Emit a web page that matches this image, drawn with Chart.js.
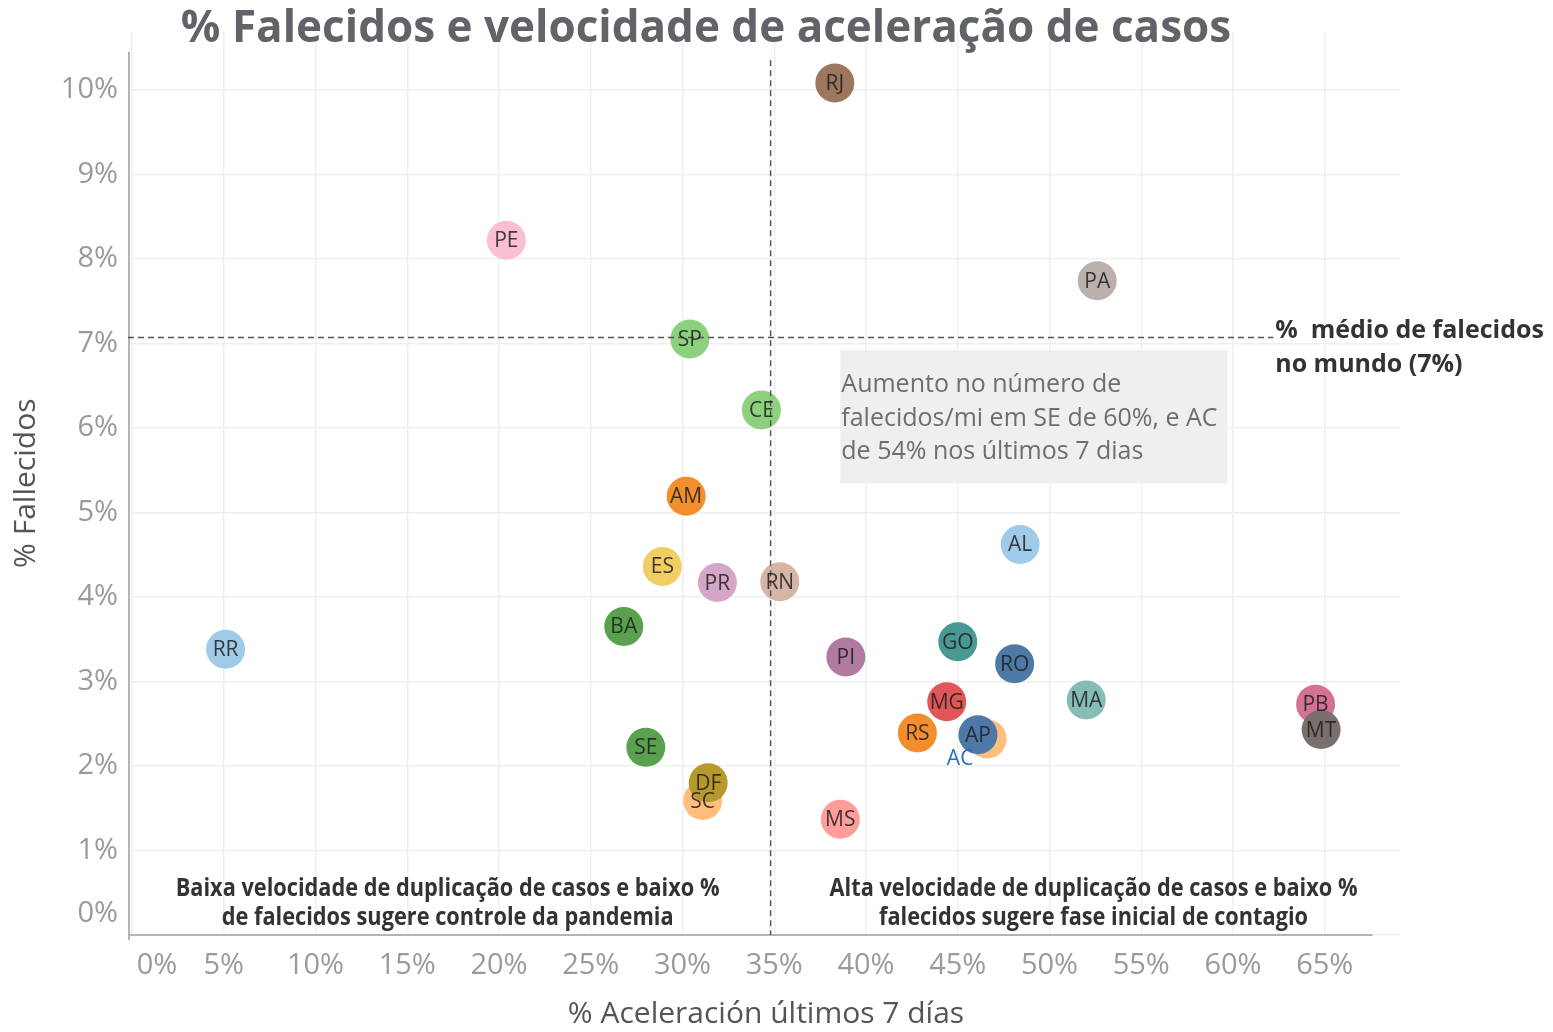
<!DOCTYPE html>
<html>
<head>
<meta charset="utf-8">
<script src="https://cdn.jsdelivr.net/npm/chart.js@4.4.1/dist/chart.umd.min.js"></script>
<style>
    html, body { margin: 0; padding: 0; background: #fff; }
    #wrap { width: 1553px; height: 1032px; }
</style>
</head>
<body>
<div id="wrap"><canvas id="scatter-chart" width="1553" height="1032"></canvas></div>
<script>
// data
var states = ['RJ', 'PE', 'PA', 'SP', 'CE', 'AM', 'AL', 'ES', 'PR', 'RN', 'BA', 'RR', 'GO', 'PI', 'RO', 'MA', 'PB', 'MT', 'MG', 'RS', 'AC', 'AP', 'SE', 'SC', 'DF', 'MS'];
var acceleration = [38.3, 20.4, 52.6, 30.4, 34.3, 30.2, 48.4, 28.9, 31.9, 35.3, 26.8, 5.1, 45.0, 38.9, 48.1, 52.0, 64.5, 64.8, 44.4, 42.8, 46.6, 46.1, 28.0, 31.1, 31.4, 38.6];
var deaths = [10.08, 8.22, 7.74, 7.05, 6.21, 5.19, 4.62, 4.36, 4.17, 4.18, 3.65, 3.38, 3.47, 3.29, 3.21, 2.78, 2.73, 2.43, 2.76, 2.39, 2.32, 2.37, 2.22, 1.59, 1.80, 1.37];
var stateColors = ['#9d7660', '#fabfd2', '#bab0ac', '#8cd17d', '#8cd17d', '#f28e2b', '#a0cbe8', '#f1ce63', '#d4a6c8', '#d7b5a6', '#59a14f', '#a0cbe8', '#499894', '#b07aa1', '#4e79a7', '#86bcb6', '#d37295', '#79706e', '#e15759', '#f28e2b', '#ffbe7d', '#4e79a7', '#59a14f', '#ffbe7d', '#b6992d', '#ff9d9a'];

var avgAcceleration = 34.8;   // vertical reference
var worldDeaths = 7.07;       // "% médio de falecidos no mundo (7%)"

var FONT = "'Open Sans', 'DejaVu Sans', sans-serif";
var TICK_COLOR = '#9a9a9a';

var points = [];
for (var i = 0; i < states.length; i++) {
    points.push({ x: acceleration[i], y: deaths[i] });
}

function textLines(ctx, lines, x, y, lineH) {
    for (var i = 0; i < lines.length; i++) {
        ctx.fillText(lines[i], x, y + i * lineH);
    }
}

// condensed bold text (Tableau semibold look)
function narrowLines(ctx, lines, x, y, lineH) {
    ctx.save();
    ctx.translate(x, y);
    ctx.scale(0.87, 1);
    textLines(ctx, lines, 0, 0, lineH);
    ctx.restore();
}

// zero labels are pushed inside the corner, like in Tableau
function tickLabel(v) {
    return v === 0 ? '' : v + '%';
}

/*
*   reference lines, notes, labels inside bubbles
*/
var overlay = {
    id: 'overlay',
    beforeDatasetsDraw: function(chart) {
        var ctx = chart.ctx, xs = chart.scales.x, ys = chart.scales.y, area = chart.chartArea;
        ctx.save();
        // axis lines
        ctx.strokeStyle = '#b4b4b4';
        ctx.lineWidth = 2;
        ctx.beginPath();
        ctx.moveTo(area.left - 3, ys.getPixelForValue(10.45));
        ctx.lineTo(area.left - 3, area.bottom + 5);
        ctx.moveTo(area.left - 4, area.bottom);
        ctx.lineTo(xs.getPixelForValue(67.6), area.bottom);
        ctx.stroke();

        // the two zero ticks
        ctx.fillStyle = TICK_COLOR;
        ctx.font = '29px ' + FONT;
        ctx.textBaseline = 'middle';
        ctx.textAlign = 'right';
        ctx.fillText('0%', area.left - 14, ys.getPixelForValue(0) - 21);
        ctx.textAlign = 'center';
        ctx.fillText('0%', xs.getPixelForValue(0) + 25, area.bottom + 31);

        // grey note box
        var bx1 = xs.getPixelForValue(38.6), bx2 = xs.getPixelForValue(59.7);
        var by1 = ys.getPixelForValue(6.92), by2 = ys.getPixelForValue(5.34);
        ctx.fillStyle = '#efefef';
        ctx.fillRect(bx1, by1, bx2 - bx1, by2 - by1);
        ctx.fillStyle = '#6e6e6e';
        ctx.font = '25px ' + FONT;
        ctx.textAlign = 'left';
        textLines(ctx, ['Aumento no número de', 'falecidos/mi em SE de 60%, e AC', 'de 54% nos últimos 7 dias'], bx1 + 1, by1 + 35, 33.5);

        // quadrant notes
        ctx.fillStyle = '#333';
        ctx.font = 'bold 25px ' + FONT;
        ctx.textAlign = 'center';
        narrowLines(ctx, ['Baixa velocidade de duplicação de casos e baixo %', 'de falecidos sugere controle da pandemia'],
            xs.getPixelForValue(17.2), ys.getPixelForValue(0.54), 29);
        narrowLines(ctx, ['Alta velocidade de duplicação de casos e baixo %', 'falecidos sugere fase inicial de contagio'],
            xs.getPixelForValue(52.4), ys.getPixelForValue(0.54), 29);
        ctx.restore();
    },
    afterDatasetsDraw: function(chart) {
        var ctx = chart.ctx, xs = chart.scales.x, ys = chart.scales.y, area = chart.chartArea;
        ctx.save();
        // dashed reference lines
        ctx.strokeStyle = '#555';
        ctx.lineWidth = 1.5;
        ctx.setLineDash([6, 4]);
        ctx.beginPath();
        var vx = xs.getPixelForValue(avgAcceleration);
        ctx.moveTo(vx, ys.getPixelForValue(10.35));
        ctx.lineTo(vx, area.bottom);
        var hy = ys.getPixelForValue(worldDeaths);
        ctx.moveTo(area.left - 4, hy);
        ctx.lineTo(xs.getPixelForValue(62.2), hy);
        ctx.stroke();
        ctx.setLineDash([]);

        ctx.fillStyle = '#333';
        ctx.font = 'bold 25px ' + FONT;
        ctx.textAlign = 'left';
        ctx.textBaseline = 'middle';
        textLines(ctx, ['%  médio de falecidos', 'no mundo (7%)'], xs.getPixelForValue(62.3), hy - 7, 34);

        // state labels
        var meta = chart.getDatasetMeta(0);
        ctx.font = '21px ' + FONT;
        ctx.textAlign = 'center';
        for (var i = 0; i < states.length; i++) {
            var p = meta.data[i];
            if (states[i] == 'AC') {
                ctx.fillStyle = '#1f6fc8';
                ctx.fillText(states[i], p.x - 27, p.y + 20);
            } else {
                ctx.fillStyle = 'rgba(30,30,30,0.85)';
                ctx.fillText(states[i], p.x, p.y + 1);
            }
        }

        // title
        ctx.fillStyle = '#606368';
        ctx.font = 'bold 44px ' + FONT;
        ctx.textAlign = 'center';
        ctx.fillText('% Falecidos e velocidade de aceleração de casos', 706, 29);
        ctx.restore();
    }
};

var ctx = document.getElementById('scatter-chart').getContext('2d');
var scatterChart = new Chart(ctx, {
    type: 'scatter',
    data: {
        datasets: [{
            data: points,
            pointRadius: 19.5,
            pointHoverRadius: 19.5,
            pointBackgroundColor: stateColors,
            pointBorderWidth: 0
        }]
    },
    options: {
        responsive: false,
        animation: false,
        events: [],
        layout: { padding: { top: 8, right: 153, left: 0, bottom: 0 } },
        plugins: {
            legend: { display: false },
            tooltip: { enabled: false }
        },
        scales: {
            x: {
                type: 'linear',
                min: 0,
                max: 69.1,
                afterFit: function(scale) { scale.height = 97; },
                border: { display: false },
                grid: { color: '#efefef', lineWidth: 1.5, drawTicks: false },
                ticks: {
                    stepSize: 5,
                    includeBounds: false,
                    padding: 13,
                    color: TICK_COLOR,
                    font: { family: FONT, size: 29 },
                    callback: tickLabel
                },
                title: {
                    display: true,
                    text: '% Aceleración últimos 7 días',
                    color: '#555',
                    font: { family: FONT, size: 30 },
                    padding: { top: 0, bottom: 0 }
                }
            },
            y: {
                type: 'linear',
                min: 0,
                max: 10.69,
                afterFit: function(scale) { scale.width = 132; },
                border: { display: false },
                grid: { color: '#efefef', lineWidth: 1.5, drawTicks: false },
                ticks: {
                    stepSize: 1,
                    includeBounds: false,
                    padding: 14,
                    color: TICK_COLOR,
                    font: { family: FONT, size: 29 },
                    callback: tickLabel
                },
                title: {
                    display: true,
                    text: '% Fallecidos',
                    color: '#555',
                    font: { family: FONT, size: 30 },
                    padding: { top: 8, bottom: 0 }
                }
            }
        }
    },
    plugins: [overlay]
});
</script>
</body>
</html>
